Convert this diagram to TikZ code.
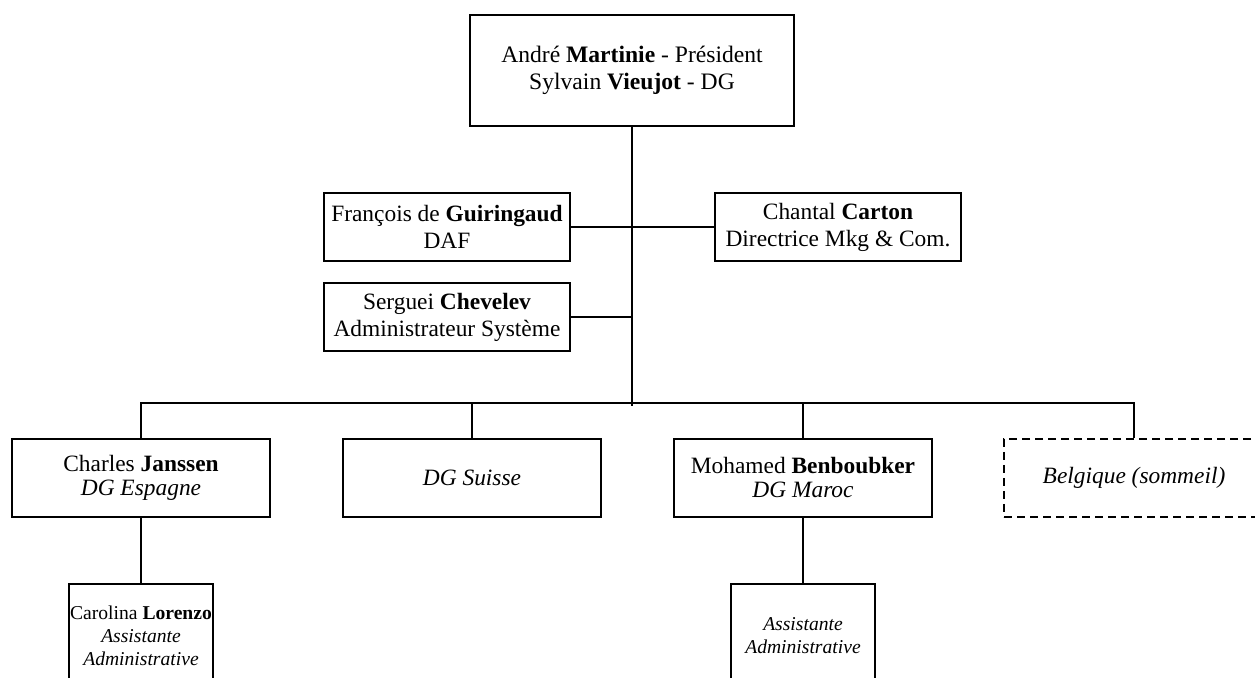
\documentclass[tikz,border=0pt]{standalone}
\usepackage{fontspec}
\setmainfont{Liberation Serif}
\usetikzlibrary{positioning}

\begin{document}
\begin{tikzpicture}[x=0.5pt, y=-0.5pt,
  box/.style={draw, line width=1pt, align=center, inner sep=1pt,
              font=\fontsize{11.7}{13.5}\selectfont},
  staff/.style={box, minimum width=123pt, minimum height=34pt},
  country/.style={box, minimum width=129pt, minimum height=39pt,
                  font=\fontsize{11.7}{12}\selectfont},
  assist/.style={box, minimum width=72pt, minimum height=52pt, inner xsep=0pt,
                 font=\fontsize{9.8}{11.5}\selectfont},
  link/.style={line width=1pt}
]
  \useasboundingbox (0,0) rectangle (1255,678);
  \clip (0,0) rectangle (1255,678);

  % direction
  \node[box, minimum width=162pt, minimum height=55.5pt,
        font=\fontsize{11.8}{13.8}\selectfont] (pres) at (632,70.5)
    {André \textbf{Martinie} - Président\\Sylvain \textbf{Vieujot} - DG};

  % staff
  \node[staff] (daf)  at (447,227) {François de \textbf{Guiringaud}\\DAF};
  \node[staff] (sys)  at (447,317) {Serguei \textbf{Chevelev}\\Administrateur Système};
  \node[staff] (mkg)  at (838,227) {Chantal \textbf{Carton}\\Directrice Mkg \& Com.};

  % filiales
  \node[country] (esp) at (141,478)  {Charles \textbf{Janssen}\\\textit{DG Espagne}};
  \node[country] (sui) at (472,478)  {\textit{DG Suisse}};
  \node[country] (mar) at (803,478)  {Mohamed \textbf{Benboubker}\\\textit{DG Maroc}};
  \node[country, minimum width=130pt, dashed, dash pattern=on 4pt off 2.5pt]
    (bel) at (1134,478) {\textit{Belgique (sommeil)}};

  % assistantes
  \node[assist] (asesp) at (141,636) {Carolina \textbf{Lorenzo}\\\textit{Assistante}\\\textit{Administrative}};
  \node[assist] (asmar) at (803,636) {\textit{Assistante}\\\textit{Administrative}};

  \coordinate (bus) at (632,403);
  \coordinate (busend) at (632,406);

  \draw[link] (pres.south) -- (busend);
  \draw[link] (daf.east) -- (daf.east -| pres.south);
  \draw[link] (sys.east) -- (sys.east -| pres.south);
  \draw[link] (mkg.west) -- (mkg.west -| pres.south);
  \draw[link] (esp.north) |- (bus) -| (bel.north);
  \draw[link] (sui.north) -- (sui.north |- bus);
  \draw[link] (mar.north) -- (mar.north |- bus);
  \draw[link] (esp.south) -- (asesp.north);
  \draw[link] (mar.south) -- (asmar.north);
\end{tikzpicture}
\end{document}
